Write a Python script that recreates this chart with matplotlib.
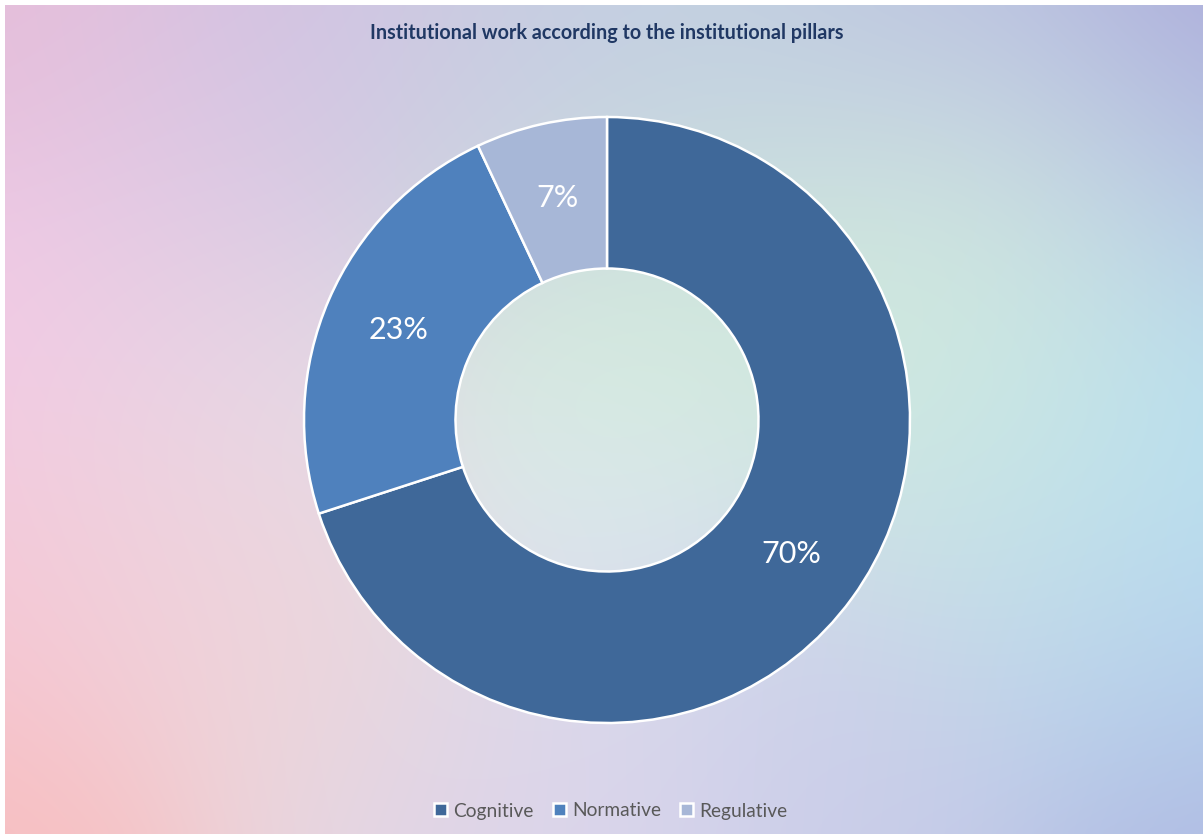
import numpy as np
import matplotlib.pyplot as plt
from matplotlib.colors import to_rgb

plt.rcParams['font.family'] = ['Lato', 'DejaVu Sans']

# data
labels = ["Cognitive", "Normative", "Regulative"]
shares = [70, 23, 7]
colors = ["#3F6899", "#4F81BD", "#A7B7D7"]
title = "Institutional work according to the institutional pillars"

W, H = 1203, 836
fig = plt.figure(figsize=(W / 100, H / 100), dpi=100, facecolor="white")

# soft multi-colour background (pixel anchors -> smooth blend)
anchors = [
    (0, 0, "#E6BEDA"), (300, 0, "#D2C0E2"), (600, 20, "#C2CCE2"),
    (900, 0, "#BCC0E2"), (1203, 0, "#A8A4D8"), (0, 330, "#F4CAE6"),
    (200, 200, "#E0CAE4"), (450, 100, "#CCD0E2"), (750, 80, "#C4D6E0"),
    (250, 420, "#E6DAE6"), (600, 330, "#D4ECDA"), (600, 520, "#DCE8F0"),
    (950, 320, "#D2ECDC"), (800, 250, "#D0E8DE"), (1010, 250, "#D4ECDC"),
    (1020, 420, "#CDE8E0"), (980, 520, "#CCE4E6"), (1130, 420, "#BCE2F0"),
    (1203, 420, "#B0E0F4"), (0, 836, "#F8BEBE"), (150, 560, "#F0D2DC"),
    (300, 700, "#EED6D8"), (450, 790, "#E0D6E8"), (600, 810, "#D8D4EC"),
    (800, 700, "#D0D2EA"), (900, 790, "#C6CAE8"), (1203, 836, "#AEB4E0"),
    (1203, 650, "#B4D2EE"), (1060, 110, "#C0CCE4"), (1203, 200, "#B4C2E4"),
    (0, 600, "#F6C6D6"), (1100, 620, "#BCD6EC"),
]
gx, gy = np.meshgrid(np.linspace(0, W, 200), np.linspace(0, H, 140))
acc = np.zeros(gx.shape + (3,))
wsum = np.zeros(gx.shape)
for ax_, ay_, c in anchors:
    w = np.exp(-((gx - ax_) ** 2 + (gy - ay_) ** 2) / (2 * 130.0 ** 2)) + 1e-12
    acc += w[..., None] * np.array(to_rgb(c))
    wsum += w
bg = np.clip(acc / wsum[..., None], 0, 1)

bax = fig.add_axes([5 / W, 2 / H, 1 - 5 / W, 1 - 7 / H])
bax.imshow(bg, extent=(0, W, H, 0), aspect="auto", interpolation="bicubic")
bax.set_axis_off()

# donut
cx, cy, r = 607, 420, 303
ax = fig.add_axes([(cx - r) / W, (H - cy - r) / H, 2 * r / W, 2 * r / H])
wedges, texts, autotexts = ax.pie(
    shares, colors=colors, startangle=90, counterclock=False, radius=1,
    autopct="%d%%", pctdistance=0.75,
    wedgeprops=dict(width=0.5, edgecolor="white", linewidth=1.8),
    textprops=dict(color="white", fontsize=22),
)
ax.set_xlim(-1, 1)
ax.set_ylim(-1, 1)

fig.text(607 / W, 1 - 33 / H, title, ha="center", va="center",
         fontsize=14.2, fontweight="bold", color="#203864")

fig.legend(wedges, labels, loc="center", bbox_to_anchor=(611 / W, 1 - 811 / H),
           ncol=3, frameon=False, fontsize=13.8, labelcolor="#595959",
           handlelength=0.65, handleheight=0.65, handletextpad=0.35,
           columnspacing=1.0)

fig.savefig("out.png", dpi=100)
